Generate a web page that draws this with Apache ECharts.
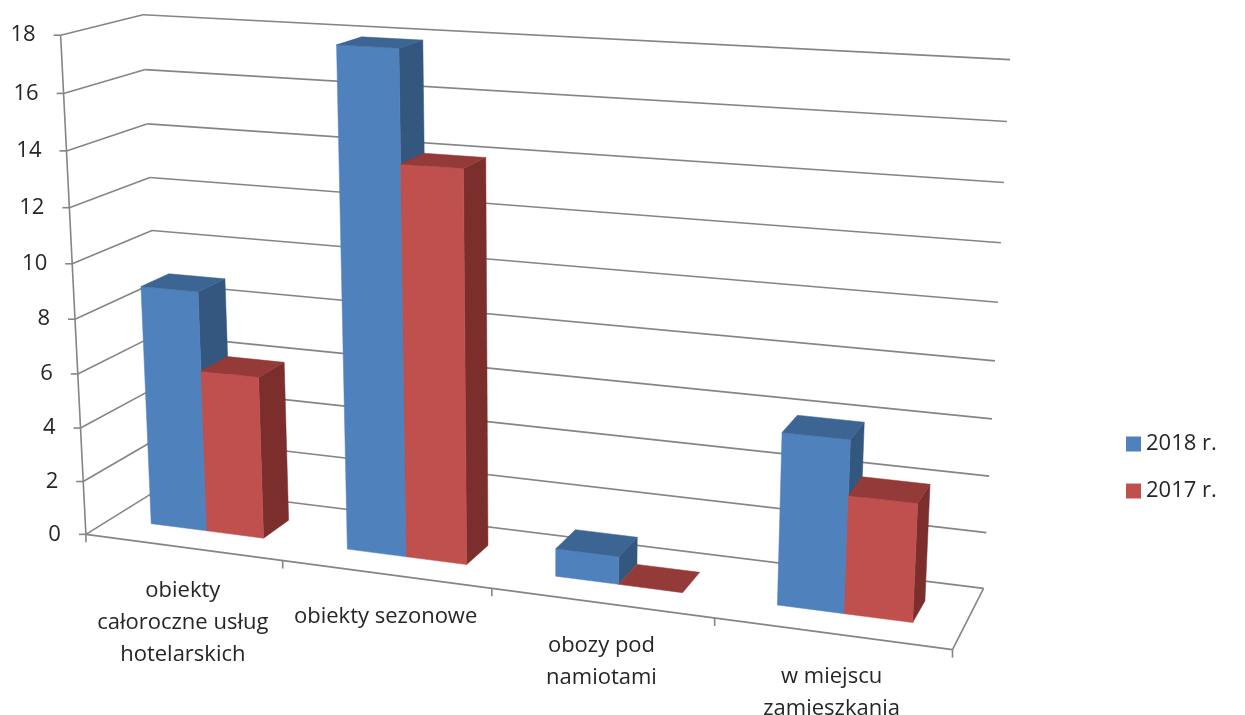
<!DOCTYPE html>
<html>
<head>
<meta charset="utf-8">
<script src="https://cdn.jsdelivr.net/npm/echarts@6/dist/echarts.min.js"></script>
<style>
  html, body { margin: 0; padding: 0; background: #fff; }
  #chart { width: 1245px; height: 715px; }
</style>
</head>
<body>
<div id="chart"></div>
<script>
// ---- data ----
const categories = [
  'obiekty\ncałoroczne usług\nhotelarskich',
  'obiekty sezonowe',
  'obozy pod\nnamiotami',
  'w miejscu\nzamieszkania'
];
const values2018 = [8.9, 17.9, 1.0, 6.0];
const values2017 = [6.0, 14.0, 0, 4.1];
const seriesNames = ['2018 r.', '2017 r.'];
const yTicks = [0, 2, 4, 6, 8, 10, 12, 14, 16, 18];

// ---- look ----
const FONT = 'Open Sans';
const TEXT_COLOR = '#262626';
const GRID_COLOR = '#858585';
const FACES = [
  { front: '#4F81BD', top: '#3C6594', side: '#33577F' },
  { front: '#C0504D', top: '#943A38', side: '#7C2E2C' }
];
const BAR_FRAC = 0.29;          // share of a category band taken by one bar
const BAR_DEPTH = [0.32, 0.68]; // front and back of the bars inside the box depth

// ---- camera: where reference points of the unit box (u, v, w) land on screen ----
// u runs along the categories, v up the value axis (0..1), w from front to back.
const boxRefs = [
  [0, 0, 0, 87, 533], [0, 1, 0, 62, 35], [0, 16/18, 0, 63, 93], [0, 14/18, 0, 66, 151],
  [0, 4/18, 0, 80, 426], [0, 2/18, 0, 83, 480],
  [0, 1, 1, 142, 15], [0, 16/18, 1, 146, 70], [0, 14/18, 1, 148, 124], [0, 12/18, 1, 149, 178],
  [1, 1, 1, 1010, 59], [1, 16/18, 1, 1007, 122], [1, 14/18, 1, 1004, 183],
  [1, 6/18, 1, 993, 418], [1, 4/18, 1, 989, 476], [1, 2/18, 1, 987, 532], [1, 0, 1, 983, 588],
  [1, 0, 0, 952, 647], [0.25, 0, 0, 283, 563], [0.5, 0, 0, 492, 592], [0.75, 0, 0, 714, 620]
];

// Least-squares pinhole camera (3x4 matrix, last entry fixed to 1).
function fitCamera(refs) {
  const N = 11, cx = 600, cy = 350, s = 500;
  const M = Array.from({ length: N }, () => new Array(N).fill(0));
  const r = new Array(N).fill(0);
  function add(row, b) {
    for (let i = 0; i < N; i++) {
      r[i] += row[i] * b;
      for (let j = 0; j < N; j++) M[i][j] += row[i] * row[j];
    }
  }
  refs.forEach(([X, Y, Z, x, y]) => {
    const xn = (x - cx) / s, yn = (y - cy) / s;
    add([X, Y, Z, 1, 0, 0, 0, 0, -xn * X, -xn * Y, -xn * Z], xn);
    add([0, 0, 0, 0, X, Y, Z, 1, -yn * X, -yn * Y, -yn * Z], yn);
  });
  // Gaussian elimination with partial pivoting
  for (let k = 0; k < N; k++) {
    let piv = k;
    for (let i = k + 1; i < N; i++) if (Math.abs(M[i][k]) > Math.abs(M[piv][k])) piv = i;
    [M[k], M[piv]] = [M[piv], M[k]];
    [r[k], r[piv]] = [r[piv], r[k]];
    for (let i = k + 1; i < N; i++) {
      const f = M[i][k] / M[k][k];
      for (let j = k; j < N; j++) M[i][j] -= f * M[k][j];
      r[i] -= f * r[k];
    }
  }
  const p = new Array(N).fill(0);
  for (let i = N - 1; i >= 0; i--) {
    let acc = r[i];
    for (let j = i + 1; j < N; j++) acc -= M[i][j] * p[j];
    p[i] = acc / M[i][i];
  }
  return function (X, Y, Z) {
    const d = p[8] * X + p[9] * Y + p[10] * Z + 1;
    return [
      (p[0] * X + p[1] * Y + p[2] * Z + p[3]) / d * s + cx,
      (p[4] * X + p[5] * Y + p[6] * Z + p[7]) / d * s + cy
    ];
  };
}
const project = fitCamera(boxRefs);

// helpers turning the cartesian scales into box fractions
function uOf(cs, px) { return (px - cs.x) / cs.width; }
function vOf(cs, py) { return (cs.y + cs.height - py) / cs.height; }
function seg(a, b, extra) {
  return Object.assign({
    type: 'line', silent: true,
    shape: { x1: a[0], y1: a[1], x2: b[0], y2: b[1] },
    style: { stroke: GRID_COLOR, lineWidth: 1.6 }
  }, extra || {});
}
function poly(points, fill) {
  return { type: 'polygon', shape: { points: points }, style: { fill: fill, stroke: fill, lineWidth: 0.5 } };
}

// value gridlines on back and side walls, plus the value-axis ticks and labels
function renderValueGrid(params, api) {
  const cs = params.coordSys;
  const val = api.value(1);
  const v = vOf(cs, api.coord([0, val])[1]);
  const a = project(0, v, 0), b = project(0, v, 1), c = project(1, v, 1);
  return {
    type: 'group',
    children: [
      seg(a, b), seg(b, c),
      seg(a, [a[0] - 7, a[1]]),
      {
        type: 'text', silent: true, x: a[0] - 25, y: a[1],
        style: { text: String(val), fill: TEXT_COLOR, fontSize: 22, fontFamily: FONT, align: 'right', verticalAlign: 'middle' }
      }
    ]
  };
}

// value axis line and floor outline
function renderFrame() {
  const o = project(0, 0, 0);
  return {
    type: 'group',
    children: [
      seg(o, project(0, 1, 0)),
      seg(o, project(1, 0, 0)),
      seg(project(1, 0, 0), project(1, 0, 1))
    ]
  };
}

// category ticks and labels along the front edge of the floor
function renderCategoryAxis(params, api) {
  const cs = params.coordSys;
  const i = api.value(0);
  const uc = uOf(cs, api.coord([i, 0])[0]);
  const bw = api.size([1, 0])[0] / cs.width;
  const children = [];
  const edges = [uc - bw / 2];
  if (i === categories.length - 1) edges.push(uc + bw / 2);
  edges.forEach(u => {
    const p = project(u, 0, 0);
    children.push(seg(p, [p[0], p[1] + 8]));
  });
  const m = project(uc, 0, 0);
  children.push({
    type: 'text', silent: true, x: m[0], y: m[1] + 27,
    style: {
      text: categories[i], fill: TEXT_COLOR, fontSize: 22, fontFamily: FONT,
      align: 'center', verticalAlign: 'top', lineHeight: 32
    }
  });
  return { type: 'group', children: children };
}

// one 3D column
function makeColumnRenderer(k) {
  return function (params, api) {
    const cs = params.coordSys;
    const i = api.value(0);
    const top = api.coord([i, api.value(1)]);
    const uc = uOf(cs, top[0]);
    const bw = api.size([1, 0])[0] / cs.width;
    const h = vOf(cs, top[1]);
    const u0 = k === 0 ? uc - bw * BAR_FRAC : uc;
    const u1 = u0 + bw * BAR_FRAC;
    const [w0, w1] = BAR_DEPTH;
    const f = FACES[k];
    const P = (u, v, w) => project(u, v, w);
    const front = [P(u0, 0, w0), P(u1, 0, w0), P(u1, h, w0), P(u0, h, w0)];
    const side = [P(u1, 0, w0), P(u1, 0, w1), P(u1, h, w1), P(u1, h, w0)];
    const lid = [P(u0, h, w0), P(u1, h, w0), P(u1, h, w1), P(u0, h, w1)];
    const children = [];
    if (h > 0) {
      children.push(poly(side, f.side));
      children.push(poly(front, f.front));
    }
    children.push(poly(lid, f.top));
    return { type: 'group', children: children };
  };
}

const chart = echarts.init(document.getElementById('chart'));
chart.setOption({
  animation: false,
  backgroundColor: '#ffffff',
  grid: { left: 100, right: 300, top: 60, bottom: 160 },
  xAxis: { type: 'category', data: categories, show: false },
  yAxis: { type: 'value', min: 0, max: 18, interval: 2, show: false },
  legend: {
    orient: 'vertical', left: 1121, top: 428,
    itemWidth: 15, itemHeight: 15, itemGap: 25, icon: 'rect',
    textStyle: { fontSize: 22, fontFamily: FONT, color: TEXT_COLOR },
    data: seriesNames
  },
  series: [
    {
      type: 'custom', name: 'valueGrid', z: 1, silent: true,
      data: yTicks.map(t => [0, t]), renderItem: renderValueGrid
    },
    {
      type: 'custom', name: 'frame', z: 1, silent: true,
      data: [[0, 0]], renderItem: renderFrame
    },
    {
      type: 'custom', name: 'categoryAxis', z: 1, silent: true,
      data: categories.map((c, i) => [i, 0]), renderItem: renderCategoryAxis
    },
    {
      type: 'custom', name: seriesNames[0], z: 2,
      itemStyle: { color: FACES[0].front },
      data: values2018.map((v, i) => [i, v]), renderItem: makeColumnRenderer(0)
    },
    {
      type: 'custom', name: seriesNames[1], z: 2,
      itemStyle: { color: FACES[1].front },
      data: values2017.map((v, i) => [i, v]), renderItem: makeColumnRenderer(1)
    }
  ]
});
</script>
</body>
</html>
